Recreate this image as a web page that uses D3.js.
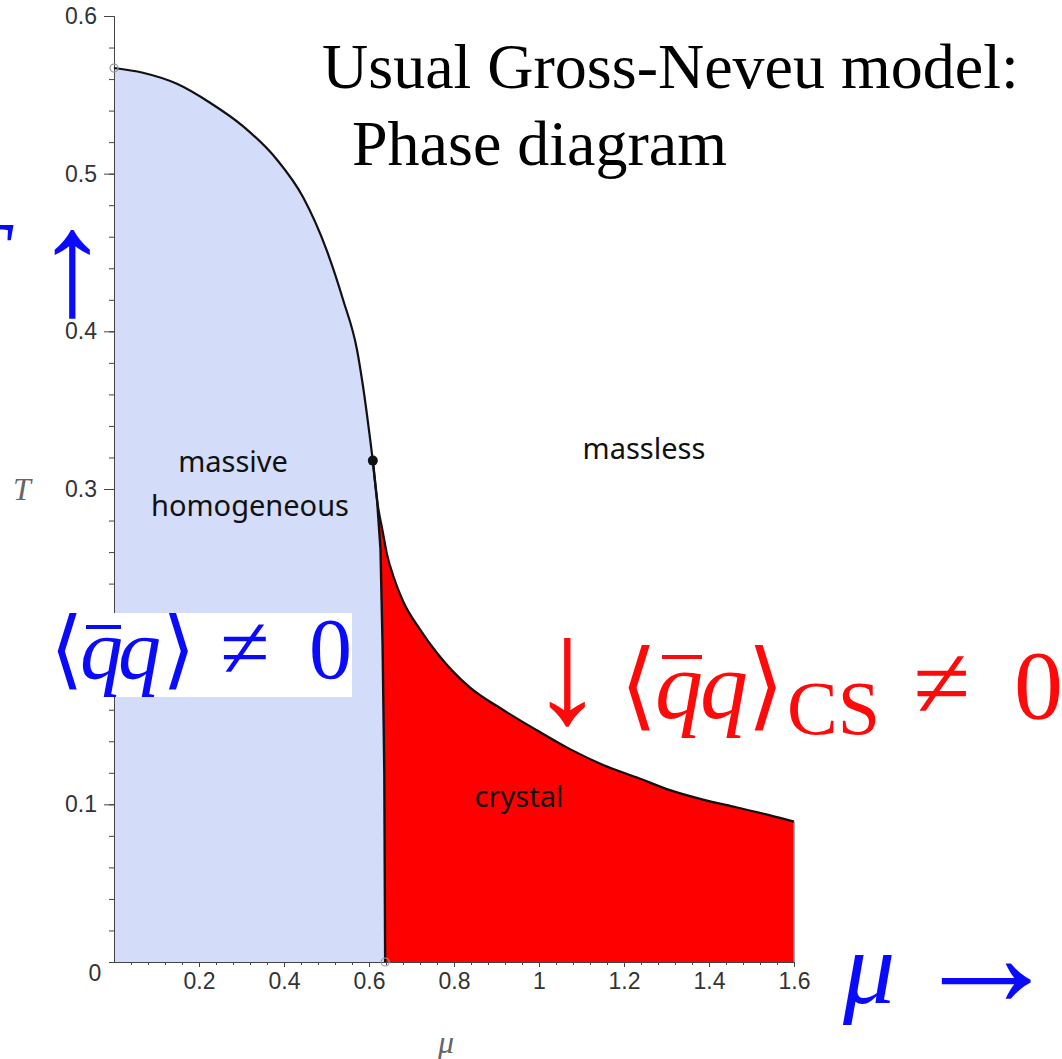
<!DOCTYPE html>
<html>
<head>
<meta charset="utf-8">
<script src="https://cdnjs.cloudflare.com/ajax/libs/d3/7.8.5/d3.min.js"></script>
<style>
  body { margin: 0; background: #fff; }
  svg { display: block; }
  .axis path, .axis line { stroke: #444; }
  .axis text { font-family: "Liberation Sans", Arial, sans-serif; font-size: 23px; fill: #333; }
  .region { font-family: "Noto Sans", sans-serif; font-size: 29px; fill: #111; text-anchor: middle; }
</style>
</head>
<body>
<div id="chart"></div>
<script>
// second-order line: massive homogeneous -> massless
var muSecond = [0, 0.068, 0.148, 0.226, 0.304, 0.383, 0.445, 0.501, 0.539, 0.572, 0.586, 0.609];
var tSecond  = [0.567, 0.564, 0.557, 0.545, 0.530, 0.509, 0.485, 0.451, 0.420, 0.388, 0.365, 0.318];

// first-order line: massive homogeneous -> crystal
var muFirst = [0.609, 0.619, 0.627, 0.632, 0.636, 0.638];
var tFirst  = [0.318, 0.293, 0.262, 0.200, 0.120, 0.000];

// crystal -> massless boundary
var muCrystal = [0.609, 0.619, 0.633, 0.642, 0.657, 0.680, 0.720, 0.760, 0.838, 0.915, 0.995, 1.073, 1.151, 1.231, 1.308, 1.386, 1.466, 1.544, 1.600];
var tCrystal  = [0.318, 0.293, 0.272, 0.259, 0.245, 0.229, 0.211, 0.196, 0.174, 0.160, 0.147, 0.135, 0.125, 0.117, 0.109, 0.103, 0.098, 0.093, 0.089];

var tricritical = [0.609, 0.318];
var openPoints = [[0, 0.567], [0.638, 0]];

var xTicks = [0.2, 0.4, 0.6, 0.8, 1, 1.2, 1.4, 1.6];
var yTicks = [0.1, 0.2, 0.3, 0.4, 0.5, 0.6];
var regionLabels = [
    { text: "massive", mu: 0.28, t: 0.311 },
    { text: "homogeneous", mu: 0.32, t: 0.283 },
    { text: "massless", mu: 1.247, t: 0.319 },
    { text: "crystal", mu: 0.953, t: 0.098 }
];

var width = 1062, height = 1059;

var svg = d3.select("#chart").append("svg")
    .attr("width", width)
    .attr("height", height);

var x = d3.scaleLinear().domain([0, 1.6]).range([114, 794]);
var y = d3.scaleLinear().domain([0, 0.6]).range([962, 16]);

function pts(mus, ts) {
    return mus.map(function (m, i) { return [x(m), y(ts[i])]; });
}
var smooth = d3.line().curve(d3.curveMonotoneX);

var second = pts(muSecond, tSecond),
    first = pts(muFirst, tFirst),
    crystal = pts(muCrystal, tCrystal);

// massive homogeneous region
var bluePath = smooth(second) + smooth(first).replace(/^M/, "L") +
    "L" + x(0) + "," + y(0) + "Z";
svg.append("path").attr("d", bluePath).attr("fill", "#d3dcf8");

// crystal region
var redPath = smooth(crystal) + "L" + x(1.6) + "," + y(0) +
    "L" + x(muFirst[muFirst.length - 1]) + "," + y(0) +
    d3.line().curve(d3.curveLinear)(first.slice().reverse()).replace(/^M/, "L") + "Z";
svg.append("path").attr("d", redPath).attr("fill", "#fe0000");

svg.append("line")
    .attr("x1", x(1.6)).attr("x2", x(1.6))
    .attr("y1", y(0)).attr("y2", y(tCrystal[tCrystal.length - 1]))
    .attr("stroke", "#888").attr("stroke-width", 1.5);

// axes
var fmt = function (d) { return String(+d.toFixed(2)); };

svg.append("g").attr("class", "axis")
    .attr("transform", "translate(" + x(0) + ",0)")
    .call(d3.axisLeft(y).tickValues(d3.range(0.02, 0.6, 0.02)).tickSize(5).tickFormat(""));
svg.append("g").attr("class", "axis")
    .attr("transform", "translate(" + x(0) + ",0)")
    .call(d3.axisLeft(y).tickValues(yTicks).tickSize(10).tickPadding(7).tickSizeOuter(0).tickFormat(fmt));

svg.append("g").attr("class", "axis")
    .attr("transform", "translate(0," + y(0) + ")")
    .call(d3.axisBottom(x).tickValues(d3.range(0.04, 1.61, 0.04)).tickSize(3).tickFormat("").tickSizeOuter(0));
svg.append("g").attr("class", "axis")
    .attr("transform", "translate(0," + y(0) + ")")
    .call(d3.axisBottom(x).tickValues(xTicks).tickSize(5).tickPadding(6).tickSizeOuter(0).tickFormat(fmt));

svg.append("text")
    .attr("x", x(0) - 19).attr("y", y(0) + 19)
    .attr("text-anchor", "middle")
    .style("font-family", "Liberation Sans, Arial, sans-serif")
    .style("font-size", "23px").style("fill", "#333")
    .text("0");

// boundary lines
[second, crystal].forEach(function (p) {
    svg.append("path").attr("d", smooth(p))
        .attr("fill", "none").attr("stroke", "#111").attr("stroke-width", 2.2);
});
svg.append("path").attr("d", d3.line()(first))
    .attr("fill", "none").attr("stroke", "#111").attr("stroke-width", 2.4);

svg.selectAll(".open").data(openPoints).enter().append("circle")
    .attr("cx", function (d) { return x(d[0]); })
    .attr("cy", function (d) { return y(d[1]); })
    .attr("r", 4).attr("fill", "none").attr("stroke", "#999").attr("stroke-width", 1.2);

svg.append("circle")
    .attr("cx", x(tricritical[0])).attr("cy", y(tricritical[1]))
    .attr("r", 5).attr("fill", "#111");

// region labels
svg.selectAll(".region").data(regionLabels).enter().append("text")
    .attr("class", "region")
    .attr("x", function (d) { return x(d.mu); })
    .attr("y", function (d) { return y(d.t); })
    .text(function (d) { return d.text; });

// text helper: one glyph group per element so each gets its own font
var SERIF = "Liberation Serif";
function piece(s, px, py, size, color, opts) {
    opts = opts || {};
    return svg.append("text")
        .attr("x", px).attr("y", py)
        .style("font-family", opts.family || SERIF)
        .style("font-style", opts.italic ? "italic" : "normal")
        .style("font-size", size + "px")
        .style("fill", color)
        .text(s);
}

// axis titles
piece("T", 13, 500, 32, "#666", { italic: true });
piece("μ", 438, 1053, 32, "#666", { italic: true });

// title
piece("Usual Gross-Neveu model:", 322, 88, 64, "#000");
piece("Phase diagram", 352, 165, 64, "#000");

var blue = "#0a0aff", red = "#ff0a0a";

// <qbar q> != 0 (blue, on white box)
svg.append("rect").attr("x", 0).attr("y", 613).attr("width", 352).attr("height", 84).attr("fill", "#fff");
piece("⟨", 50, 678, 86, blue, { family: "DejaVu Serif" });
piece("q", 80, 678, 86, blue, { italic: true });
piece("q", 118, 678, 86, blue, { italic: true });
piece("⟩", 162, 678, 86, blue, { family: "DejaVu Serif" });
piece("≠", 220, 678, 90, blue);
piece("0", 309, 678, 86, blue);
svg.append("line").attr("x1", 86).attr("x2", 121).attr("y1", 627).attr("y2", 627)
    .attr("stroke", blue).attr("stroke-width", 4);

// down arrow <qbar q>_CS != 0 (red)
piece("↓", 530, 722, 150, red);
piece("⟨", 620, 718, 96, red, { family: "DejaVu Serif" });
piece("q", 655, 718, 96, red, { italic: true });
piece("q", 700, 718, 96, red, { italic: true });
piece("⟩", 747, 718, 96, red, { family: "DejaVu Serif" });
piece("CS", 787, 734, 76, red);
piece("≠", 913, 718, 104, red);
piece("0", 1014, 718, 98, red);
svg.append("line").attr("x1", 662).attr("x2", 702).attr("y1", 657).attr("y2", 657)
    .attr("stroke", red).attr("stroke-width", 4);

// axis arrows (blue)
piece("μ", 843, 1003, 104, blue, { italic: true });
piece("→", 911, 1006, 150, blue);
piece("T", -48, 290, 100, blue, { italic: true });
piece("↑", 35, 314, 150, blue);
</script>
</body>
</html>
